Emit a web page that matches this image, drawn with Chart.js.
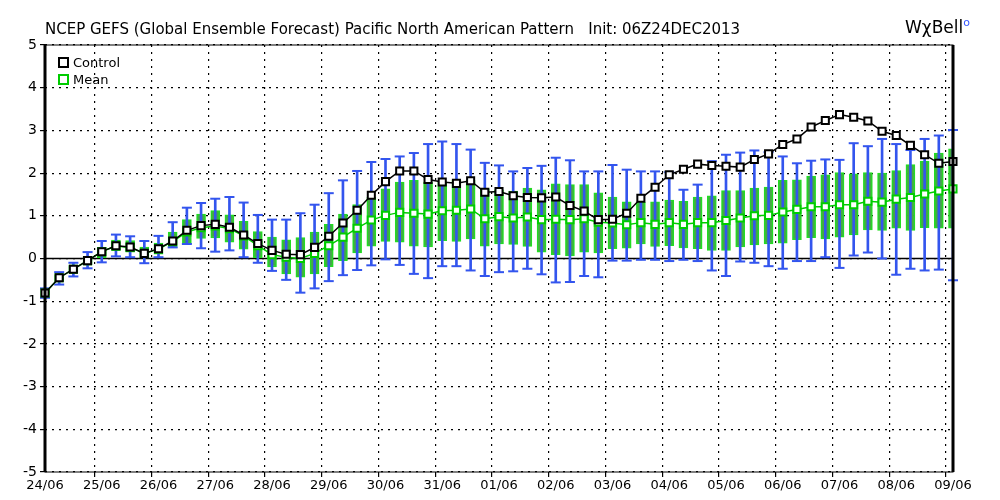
<!DOCTYPE html>
<html>
<head>
<meta charset="utf-8">
<script src="https://cdn.jsdelivr.net/npm/chart.js@4.4.1/dist/chart.umd.min.js"></script>
<style>
  body { margin: 0; background: #fff; font-family: "DejaVu Sans", sans-serif; }
  #wrap { position: relative; width: 1000px; height: 500px; }
  #title { position: absolute; left: 45px; top: 20px; font-size: 15px; color: #000; white-space: pre; }
  #logo { position: absolute; left: 905px; top: 16px; font-size: 17px; color: #000; }
  #logo sup { color: #3355ff; font-size: 11px; }
  .leg { position: absolute; left: 58px; font-size: 13px; }
  .sq { display: inline-block; width: 7px; height: 7px; border: 2px solid; background: #fff; margin-right: 4px; vertical-align: -1px; }
</style>
</head>
<body>
<div id="wrap">
  <canvas id="chart" width="1000" height="500"></canvas>
  <div id="title">NCEP GEFS (Global Ensemble Forecast) Pacific North American Pattern   Init: 06Z24DEC2013</div>
  <div id="logo">WχBell<sup>o</sup></div>
  <div class="leg" style="top:55px"><span class="sq" style="border-color:#000"></span>Control</div>
  <div class="leg" style="top:72px"><span class="sq" style="border-color:#00cc00"></span>Mean</div>
</div>
<script>
// day labels, one every 4 steps (6-hourly)
const DAYS = ['24/06', '25/06', '26/06', '27/06', '28/06', '29/06', '30/06', '31/06', '01/06',
    '02/06', '03/06', '04/06', '05/06', '06/06', '07/06', '08/06', '09/06'];

const control = [-0.81, -0.45, -0.25, -0.05, 0.16, 0.30, 0.27, 0.12, 0.23, 0.41, 0.66, 0.77, 0.80, 0.73, 0.55, 0.35,
    0.19, 0.10, 0.09, 0.26, 0.52, 0.83, 1.13, 1.48, 1.80, 2.05, 2.05, 1.85, 1.79, 1.76, 1.82, 1.55,
    1.57, 1.47, 1.43, 1.42, 1.44, 1.24, 1.11, 0.91, 0.92, 1.06, 1.41, 1.67, 1.96, 2.09, 2.21, 2.18,
    2.16, 2.14, 2.32, 2.45, 2.67, 2.80, 3.08, 3.23, 3.37, 3.31, 3.22, 2.98, 2.88, 2.65, 2.43, 2.23, 2.27];

const mean = [-0.81, -0.45, -0.25, -0.05, 0.16, 0.29, 0.26, 0.12, 0.22, 0.40, 0.62, 0.72, 0.76, 0.70, 0.53, 0.30,
    0.09, 0.03, 0.00, 0.12, 0.30, 0.50, 0.71, 0.90, 1.01, 1.08, 1.06, 1.04, 1.12, 1.13, 1.16, 0.93,
    0.98, 0.95, 0.97, 0.91, 0.92, 0.91, 0.93, 0.85, 0.83, 0.79, 0.84, 0.80, 0.84, 0.80, 0.84, 0.84,
    0.89, 0.95, 1.00, 1.01, 1.09, 1.15, 1.21, 1.21, 1.26, 1.26, 1.34, 1.32, 1.39, 1.43, 1.51, 1.58, 1.63];

const boxLo = [-0.86, -0.52, -0.33, -0.15, 0.00, 0.19, 0.15, 0.00, 0.10, 0.26, 0.35, 0.47, 0.48, 0.38, 0.22, 0.02,
    -0.20, -0.36, -0.44, -0.36, -0.19, -0.05, 0.13, 0.29, 0.40, 0.38, 0.29, 0.27, 0.42, 0.40, 0.46, 0.29,
    0.34, 0.33, 0.28, 0.15, 0.09, 0.06, 0.15, 0.13, 0.23, 0.24, 0.34, 0.28, 0.30, 0.25, 0.23, 0.19,
    0.19, 0.27, 0.32, 0.34, 0.36, 0.44, 0.49, 0.46, 0.50, 0.55, 0.67, 0.66, 0.71, 0.66, 0.72, 0.71, 0.71];

const boxHi = [-0.75, -0.38, -0.17, 0.05, 0.26, 0.43, 0.42, 0.27, 0.36, 0.62, 0.91, 1.04, 1.12, 1.02, 0.87, 0.63,
    0.50, 0.44, 0.49, 0.62, 0.80, 1.04, 1.26, 1.44, 1.63, 1.79, 1.83, 1.79, 1.79, 1.83, 1.83, 1.63,
    1.61, 1.58, 1.65, 1.61, 1.75, 1.73, 1.73, 1.54, 1.44, 1.33, 1.32, 1.33, 1.37, 1.34, 1.44, 1.47,
    1.59, 1.59, 1.65, 1.67, 1.83, 1.84, 1.93, 1.96, 2.01, 1.98, 2.01, 2.00, 2.06, 2.20, 2.28, 2.47, 2.57];

const whiskLo = [-0.92, -0.61, -0.42, -0.23, -0.09, 0.05, 0.03, -0.11, 0.03, 0.26, 0.34, 0.24, 0.16, 0.19, 0.03, -0.10,
    -0.29, -0.50, -0.80, -0.70, -0.53, -0.39, -0.27, -0.16, -0.02, -0.15, -0.36, -0.46, -0.18, -0.18, -0.28, -0.41,
    -0.32, -0.30, -0.24, -0.37, -0.56, -0.55, -0.41, -0.44, -0.05, -0.05, -0.03, -0.03, -0.06, -0.03, -0.06, -0.28,
    -0.41, -0.07, -0.10, -0.18, -0.24, -0.06, -0.06, 0.03, -0.22, 0.07, 0.14, 0.00, -0.38, -0.24, -0.28, -0.26, -0.51];

const whiskHi = [-0.70, -0.32, -0.10, 0.15, 0.41, 0.56, 0.52, 0.41, 0.53, 0.85, 1.19, 1.30, 1.40, 1.44, 1.31, 1.02,
    0.91, 0.91, 1.06, 1.26, 1.53, 1.83, 2.05, 2.26, 2.33, 2.39, 2.47, 2.68, 2.74, 2.68, 2.55, 2.24,
    2.18, 2.04, 2.12, 2.17, 2.36, 2.30, 2.04, 2.04, 2.19, 2.08, 2.04, 2.04, 2.02, 1.61, 1.73, 2.28,
    2.43, 2.48, 2.53, 2.49, 2.39, 2.23, 2.29, 2.32, 2.31, 2.70, 2.63, 2.80, 2.68, 2.54, 2.80, 2.88, 3.01];

const labels = control.map((v, i) => i % 4 === 0 ? DAYS[i / 4] : '');
const zero = control.map(() => 0);

const frame = {
    id: 'frame',
    afterDraw(chart) {
        const a = chart.chartArea, c = chart.ctx;
        c.save();
        c.strokeStyle = '#000';
        c.lineWidth = 1;
        c.strokeRect(a.left, a.top, a.right - a.left, a.bottom - a.top);
        c.lineWidth = 3;
        c.beginPath();
        c.moveTo(a.left, a.top); c.lineTo(a.left, a.bottom);
        c.moveTo(a.right, a.top); c.lineTo(a.right, a.bottom);
        c.stroke();
        c.restore();
    }
};

new Chart(document.getElementById('chart'), {
    type: 'bar',
    data: {
        labels: labels,
        datasets: [
            { type: 'line', data: zero, borderColor: '#000', borderWidth: 1.5, pointRadius: 0, order: 5 },
            { data: boxLo.map((v, i) => [v, boxHi[i]]), backgroundColor: '#44aa44', borderColor: '#22dd22',
              borderWidth: 1.5, borderSkipped: false, barThickness: 9, grouped: false, order: 4 },
            { data: whiskLo.map((v, i) => [v, whiskHi[i]]), backgroundColor: '#3355ee', borderWidth: 0,
              barThickness: 2, grouped: false, order: 3 },
            { type: 'line', data: whiskHi, showLine: false, pointStyle: 'line', pointRadius: 5,
              borderColor: '#3355ee', borderWidth: 2, order: 3 },
            { type: 'line', data: whiskLo, showLine: false, pointStyle: 'line', pointRadius: 5,
              borderColor: '#3355ee', borderWidth: 2, order: 3 },
            { type: 'line', label: 'Mean', data: mean, borderColor: '#00cc00', borderWidth: 1.5,
              pointStyle: 'rect', pointRadius: 5, pointBackgroundColor: '#fff', pointBorderColor: '#00cc00',
              pointBorderWidth: 2, order: 2 },
            { type: 'line', label: 'Control', data: control, borderColor: '#000', borderWidth: 1.5,
              pointStyle: 'rect', pointRadius: 5, pointBackgroundColor: '#fff', pointBorderColor: '#000',
              pointBorderWidth: 2, order: 1 }
        ]
    },
    options: {
        responsive: false,
        animation: false,
        layout: { padding: { top: 45, right: 47, left: 0, bottom: 0 } },
        plugins: { legend: { display: false }, tooltip: { enabled: false } },
        scales: {
            x: {
                offset: false,
                afterFit: s => { s.height = 28; },
                grid: {
                    color: c => (c.index % 4 === 0 ? '#000' : 'rgba(0,0,0,0)'),
                    tickColor: c => (c.index % 4 === 0 ? '#000' : 'rgba(0,0,0,0)'),
                    tickLength: 5,
                    lineWidth: 1.2
                },
                border: { dash: [2, 5], display: false },
                ticks: { autoSkip: false, maxRotation: 0, color: '#000', padding: 1,
                          font: { family: 'DejaVu Sans', size: 13 } }
            },
            y: {
                min: -5, max: 5,
                afterFit: s => { s.width = 45; },
                grid: { color: '#000', lineWidth: 1.2, tickLength: 5 },
                border: { dash: [2, 5], display: false },
                ticks: { stepSize: 1, color: '#000', font: { family: 'DejaVu Sans', size: 14 } }
            }
        }
    },
    plugins: [frame]
});
</script>
</body>
</html>
